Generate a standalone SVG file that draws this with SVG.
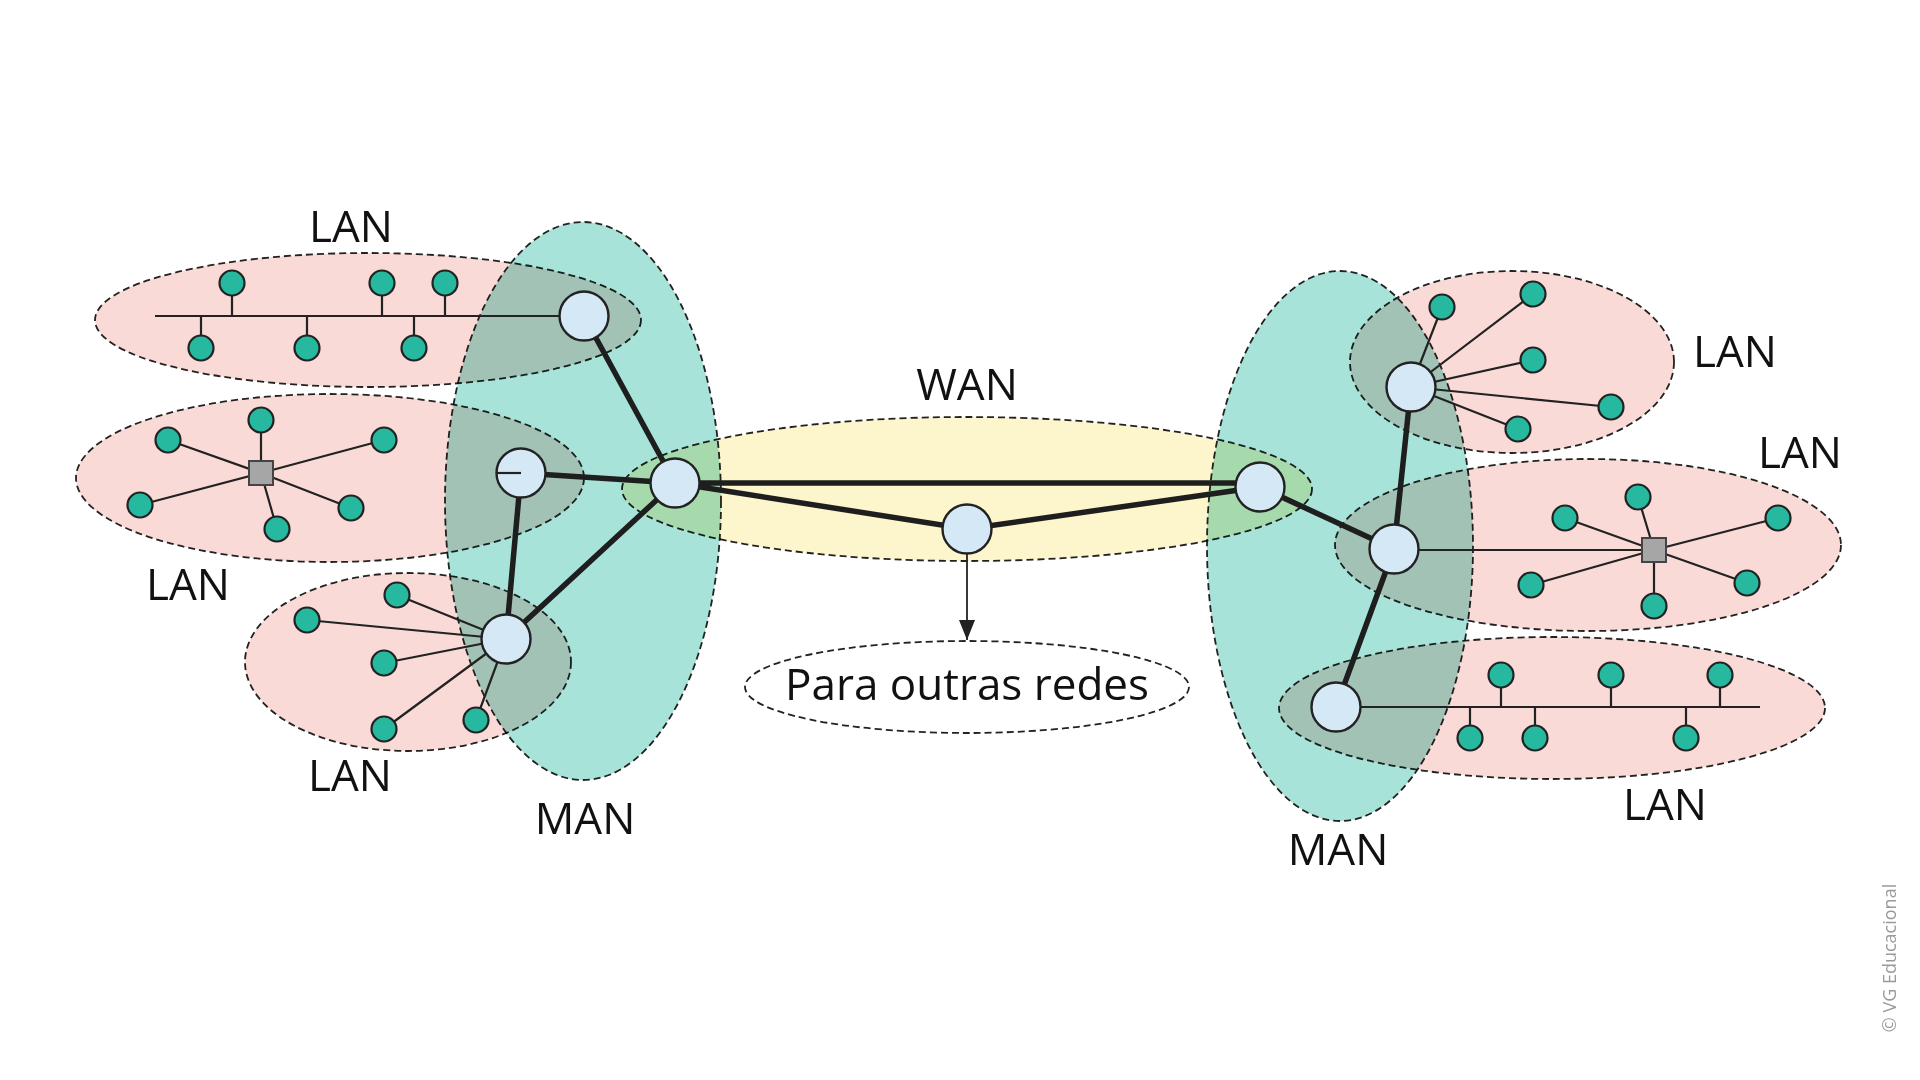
<svg xmlns="http://www.w3.org/2000/svg" width="1920" height="1080" viewBox="0 0 1920 1080">
<defs>
<style>
.region{mix-blend-mode:multiply;stroke:#222;stroke-width:1.8;stroke-dasharray:7 4}
.lan{fill:#f9dad6}
.man{fill:#a7e3d9}
.wan{fill:#fdf5cb}
.other{fill:none;stroke:#222;stroke-width:1.8;stroke-dasharray:7 4}
.thin{stroke:#222;stroke-width:2.2;fill:none}
.thick{stroke:#1e1e1e;stroke-width:5.5;fill:none}
.router{fill:#d4e8f5;stroke:#222;stroke-width:2.4}
.pc{fill:#26b9a0;stroke:#222;stroke-width:2.2}
.sw{fill:#a6a6a6;stroke:#444;stroke-width:2}
.label{font-family:"Open Sans","Noto Sans","Liberation Sans",sans-serif;font-size:44px;fill:#111;text-anchor:middle}
.copy{font-family:"Open Sans","Noto Sans","Liberation Sans",sans-serif;font-size:18px;fill:#9a9a9a;text-anchor:middle}
</style>
<marker id="arrow" viewBox="0 0 20 16" refX="20" refY="8" markerWidth="20" markerHeight="16" markerUnits="userSpaceOnUse" orient="auto">
<path d="M0,0 L20,8 L0,16 Z" fill="#222"/>
</marker>
</defs>
<rect width="1920" height="1080" fill="#ffffff"/>

<g id="regions">
<ellipse id="man-left" class="region man" cx="583" cy="501" rx="138" ry="279"/>
<ellipse id="man-right" class="region man" cx="1340" cy="546" rx="133" ry="275"/>
<ellipse id="wan" class="region wan" cx="967" cy="489" rx="345" ry="72"/>
<ellipse id="lan-tl" class="region lan" cx="368" cy="320" rx="273" ry="67"/>
<ellipse id="lan-ml" class="region lan" cx="330" cy="478" rx="254" ry="84"/>
<ellipse id="lan-bl" class="region lan" cx="408" cy="662" rx="163" ry="89"/>
<ellipse id="lan-tr" class="region lan" cx="1512" cy="362" rx="162" ry="91"/>
<ellipse id="lan-mr" class="region lan" cx="1588" cy="545" rx="253" ry="86"/>
<ellipse id="lan-br" class="region lan" cx="1552" cy="708" rx="273" ry="71"/>
<ellipse id="other-networks" class="other" cx="967" cy="687" rx="222" ry="46"/>
</g>

<g id="connectors">
<path class="thin" d="M155,316 H584 M232,316 V283 M382,316 V283 M445,316 V283 M201,316 V348 M307,316 V348 M414,316 V348"/>
<path class="thin" d="M261,473 L168,440 M261,473 L261,420 M261,473 L384,440 M261,473 L140,505 M261,473 L277,529 M261,473 L351,508"/>
<path class="thin" d="M506,639 L307,620 M506,639 L397,595 M506,639 L384,663 M506,639 L384,729 M506,639 L476,720"/>
<path class="thin" d="M1411,387 L1442,307 M1411,387 L1533,294 M1411,387 L1533,360 M1411,387 L1611,407 M1411,387 L1518,429"/>
<path class="thin" d="M1394,550 H1654 M1654,550 L1565,518 M1654,550 L1638,497 M1654,550 L1778,518 M1654,550 L1531,585 M1654,550 L1747,583 M1654,550 L1654,606"/>
<path class="thin" d="M1336,707 H1760 M1501,707 V675 M1611,707 V675 M1720,707 V675 M1470,707 V738 M1535,707 V738 M1686,707 V738"/>
<path class="thick" d="M584,316 L675,483 M521,473 L675,483 M521,473 L506,639 M506,639 L675,483 M675,483 H1260 M675,483 L967,529 L1260,487 M1260,487 L1394,549 M1411,387 L1394,549 L1336,707"/>
<line x1="967" y1="553" x2="967" y2="640" stroke="#222" stroke-width="1.8" marker-end="url(#arrow)"/>
</g>

<g id="router-tl"><circle class="router" cx="584" cy="316" r="24.5"/></g>
<g id="router-ml"><circle class="router" cx="521" cy="473" r="24.5"/><line class="thin" x1="496.5" y1="473" x2="521" y2="473"/></g>
<g id="router-bl"><circle class="router" cx="506" cy="639" r="24.5"/></g>
<g id="router-wan-l"><circle class="router" cx="675" cy="483" r="24.5"/></g>
<g id="router-wan-m"><circle class="router" cx="967" cy="529" r="24.5"/></g>
<g id="router-wan-r"><circle class="router" cx="1260" cy="487" r="24.5"/></g>
<g id="router-tr"><circle class="router" cx="1411" cy="387" r="24.5"/></g>
<g id="router-mr"><circle class="router" cx="1394" cy="549" r="24.5"/></g>
<g id="router-br"><circle class="router" cx="1336" cy="707" r="24.5"/></g>

<g id="switch-ml"><rect class="sw" x="249" y="461" width="24" height="24"/></g>
<g id="switch-mr"><rect class="sw" x="1642" y="538" width="24" height="24"/></g>

<g id="pcs-tl">
<circle class="pc" cx="232" cy="283" r="12.5"/><circle class="pc" cx="382" cy="283" r="12.5"/><circle class="pc" cx="445" cy="283" r="12.5"/>
<circle class="pc" cx="201" cy="348" r="12.5"/><circle class="pc" cx="307" cy="348" r="12.5"/><circle class="pc" cx="414" cy="348" r="12.5"/>
</g>
<g id="pcs-ml">
<circle class="pc" cx="168" cy="440" r="12.5"/><circle class="pc" cx="261" cy="420" r="12.5"/><circle class="pc" cx="384" cy="440" r="12.5"/>
<circle class="pc" cx="140" cy="505" r="12.5"/><circle class="pc" cx="277" cy="529" r="12.5"/><circle class="pc" cx="351" cy="508" r="12.5"/>
</g>
<g id="pcs-bl">
<circle class="pc" cx="307" cy="620" r="12.5"/><circle class="pc" cx="397" cy="595" r="12.5"/><circle class="pc" cx="384" cy="663" r="12.5"/>
<circle class="pc" cx="384" cy="729" r="12.5"/><circle class="pc" cx="476" cy="720" r="12.5"/>
</g>
<g id="pcs-tr">
<circle class="pc" cx="1442" cy="307" r="12.5"/><circle class="pc" cx="1533" cy="294" r="12.5"/><circle class="pc" cx="1533" cy="360" r="12.5"/>
<circle class="pc" cx="1611" cy="407" r="12.5"/><circle class="pc" cx="1518" cy="429" r="12.5"/>
</g>
<g id="pcs-mr">
<circle class="pc" cx="1565" cy="518" r="12.5"/><circle class="pc" cx="1638" cy="497" r="12.5"/><circle class="pc" cx="1778" cy="518" r="12.5"/>
<circle class="pc" cx="1531" cy="585" r="12.5"/><circle class="pc" cx="1747" cy="583" r="12.5"/><circle class="pc" cx="1654" cy="606" r="12.5"/>
</g>
<g id="pcs-br">
<circle class="pc" cx="1501" cy="675" r="12.5"/><circle class="pc" cx="1611" cy="675" r="12.5"/><circle class="pc" cx="1720" cy="675" r="12.5"/>
<circle class="pc" cx="1470" cy="738" r="12.5"/><circle class="pc" cx="1535" cy="738" r="12.5"/><circle class="pc" cx="1686" cy="738" r="12.5"/>
</g>

<g id="labels">
<text class="label" x="351" y="242">LAN</text>
<text class="label" x="188" y="600">LAN</text>
<text class="label" x="350" y="791">LAN</text>
<text class="label" x="585" y="834">MAN</text>
<text class="label" x="967" y="400">WAN</text>
<text class="label" x="967" y="700">Para outras redes</text>
<text class="label" x="1735" y="367">LAN</text>
<text class="label" x="1800" y="468">LAN</text>
<text class="label" x="1665" y="820">LAN</text>
<text class="label" x="1338" y="865">MAN</text>
<text class="copy" transform="translate(1896,958) rotate(-90)">© VG Educacional</text>
</g>
</svg>
